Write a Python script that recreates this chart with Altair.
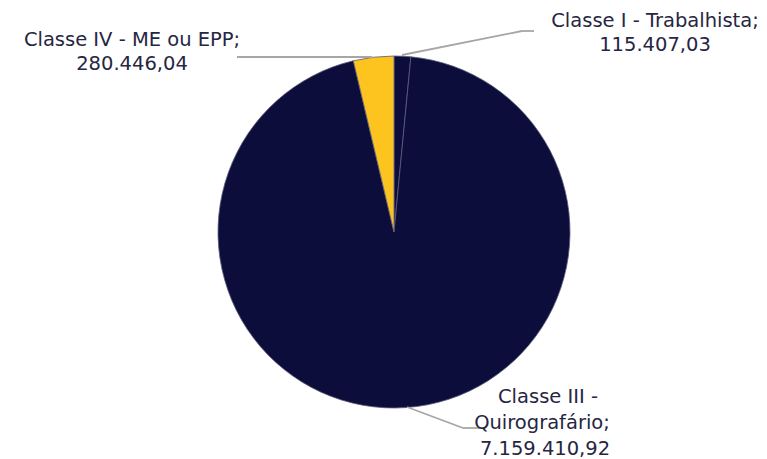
import altair as alt
import pandas as pd

categories = ["Classe I - Trabalhista", "Classe III - Quirografário", "Classe IV - ME ou EPP"]
values = [115407.03, 7159410.92, 280446.04]
value_labels = ["115.407,03", "7.159.410,92", "280.446,04"]
colors = ["#0d0d3b", "#0d0d3b", "#fdc420"]
order = [1, 2, 3]

label_lines = [
    ["Classe I - Trabalhista;", "115.407,03"],
    ["Classe III -", "Quirografário;", "7.159.410,92"],
    ["Classe IV - ME ou EPP;", "280.446,04"],
]

df = pd.DataFrame({"categoria": categories, "valor": values, "ordem": order})

CX, CY, R = 386, 224, 176

pie = alt.Chart(df).mark_arc(
    outerRadius=R, stroke="#5c5c7e", strokeWidth=0.8
).encode(
    theta=alt.Theta("valor:Q", stack=True),
    color=alt.Color("categoria:N", scale=alt.Scale(domain=categories, range=colors), legend=None),
    order=alt.Order("ordem:Q"),
    x=alt.value(CX),
    y=alt.value(CY),
)

layers = [pie]

# leader lines (annotation)
segments = [
    (229, 49, 364, 49),
    (394, 47, 514, 23),
    (514, 23, 526, 23),
    (399, 399, 455, 420),
    (455, 420, 472, 420),
]
line_df = pd.DataFrame({"k": [0]})
for (x1, y1, x2, y2) in segments:
    layers.append(
        alt.Chart(line_df).mark_rule(color="#a6a6a6", strokeWidth=1.8).encode(
            x=alt.value(x1), x2=alt.value(x2), y=alt.value(y1), y2=alt.value(y2)
        )
    )

# label positions (annotation)
positions = [
    [(647, 13), (647, 37)],
    [(540, 389), (534, 415), (537, 441)],
    [(124, 32), (124, 56)],
]
for lines, pos in zip(label_lines, positions):
    for txt, (px, py) in zip(lines, pos):
        layers.append(
            alt.Chart(pd.DataFrame({"t": [txt]})).mark_text(
                font="DejaVu Sans", fontSize=19.5, color="#262642", align="center", baseline="middle"
            ).encode(text="t:N", x=alt.value(px), y=alt.value(py))
        )

chart = alt.layer(*layers).properties(
    width=751, height=443, padding=0
).configure_view(stroke=None)

chart.save("out.html", embed_options={"renderer": "svg", "actions": False})
